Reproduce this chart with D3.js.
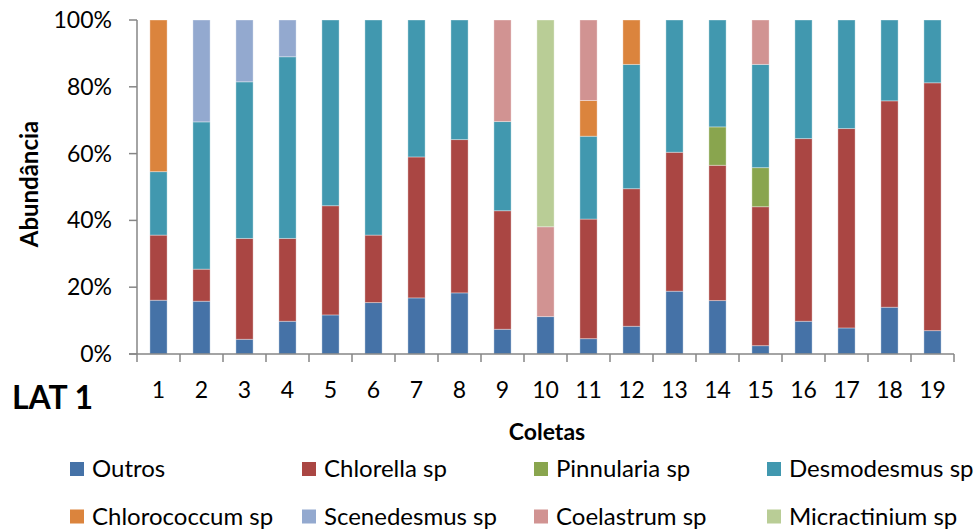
<!DOCTYPE html>
<html>
<head>
<meta charset="utf-8">
<script src="https://cdn.jsdelivr.net/npm/d3@7"></script>
<style>
html,body{margin:0;padding:0;background:#fff;}
svg{display:block;font-family:Lato,"Open Sans",sans-serif;}
</style>
</head>
<body>
<svg id="chart" width="980" height="529"></svg>
<script>
const categories = ["1","2","3","4","5","6","7","8","9","10","11","12","13","14","15","16","17","18","19"];
const seriesNames = ["Outros","Chlorella sp","Pinnularia sp","Desmodesmus sp","Chlorococcum sp","Scenedesmus sp","Coelastrum sp","Micractinium sp"];
const seriesColors = ["#4572A7","#AA4643","#89A54E","#4198AF","#DB843D","#93A9CF","#D19392","#B9CD96"];
const outros       = [16.1,15.8,4.4,9.8,11.7,15.4,16.8,18.3,7.4,11.2,4.6,8.3,18.8,16.0,2.5,9.8,7.8,14.0,7.0];
const chlorella    = [19.5,9.6,30.2,24.8,32.7,20.2,42.2,45.9,35.5,0,35.8,41.2,41.6,40.5,41.6,54.7,59.7,61.8,74.2];
const pinnularia   = [0,0,0,0,0,0,0,0,0,0,0,0,0,11.5,11.7,0,0,0,0];
const desmodesmus  = [19.0,44.1,46.9,54.4,55.6,64.4,41.0,35.8,26.7,0,24.8,37.2,39.6,32.0,30.9,35.5,32.5,24.2,18.8];
const chlorococcum = [45.4,0,0,0,0,0,0,0,0,0,10.7,13.3,0,0,0,0,0,0,0];
const scenedesmus  = [0,30.5,18.5,11.0,0,0,0,0,0,0,0,0,0,0,0,0,0,0,0];
const coelastrum   = [0,0,0,0,0,0,0,0,30.4,26.9,24.1,0,0,0,13.3,0,0,0,0];
const micractinium = [0,0,0,0,0,0,0,0,0,61.9,0,0,0,0,0,0,0,0,0];
const yTickLabels = ["0%","20%","40%","60%","80%","100%"];

const seriesValues = [outros,chlorella,pinnularia,desmodesmus,chlorococcum,scenedesmus,coelastrum,micractinium];
const table = categories.map((c,i)=>{
  const row = {cat:c};
  seriesNames.forEach((s,j)=>row[s]=seriesValues[j][i]);
  return row;
});

const svg = d3.select("#chart");
const X0=137, X1=954, Y0=20, Y1=354;
const axisColor="#868686";

const x = d3.scaleBand().domain(categories).range([X0,X1]).paddingInner(0.6).paddingOuter(0.3);
const y = d3.scaleLinear().domain([0,1]).range([Y1,Y0]);

const stacked = d3.stack().keys(seriesNames).offset(d3.stackOffsetExpand)(table);

const g = svg.append("g");
stacked.forEach((layer,j)=>{
  g.selectAll(null).data(layer.filter(d=>d[1]-d[0]>0)).enter().append("rect")
    .attr("x",d=>x(d.data.cat))
    .attr("width",x.bandwidth())
    .attr("y",d=>y(d[1]))
    .attr("height",d=>y(d[0])-y(d[1]))
    .attr("fill",seriesColors[j])
    .attr("stroke","rgba(255,255,255,0.35)")
    .attr("stroke-width",1);
});

// Axes lines
svg.append("line").attr("x1",X0).attr("x2",X0).attr("y1",Y0).attr("y2",Y1).attr("stroke",axisColor).attr("stroke-width",1.5);
svg.append("line").attr("x1",X0-8).attr("x2",X1).attr("y1",Y1).attr("y2",Y1).attr("stroke",axisColor).attr("stroke-width",1.5);

// Y ticks
const yTicks = d3.range(0,1.0001,0.2);
svg.selectAll(null).data(yTicks).enter().append("line")
  .attr("x1",X0-8).attr("x2",X0).attr("y1",d=>y(d)).attr("y2",d=>y(d))
  .attr("stroke",axisColor).attr("stroke-width",1.5);
svg.selectAll(null).data(yTicks).enter().append("text")
  .attr("x",112).attr("y",d=>y(d)+8)
  .attr("text-anchor","end").attr("font-size",23).attr("fill","#000")
  .text((d,i)=>yTickLabels[i]);

// X ticks (boundaries)
const step = x.step();
const bounds = d3.range(categories.length+1).map(k=>X0+k*step);
svg.selectAll(null).data(bounds).enter().append("line")
  .attr("x1",d=>d).attr("x2",d=>d).attr("y1",Y1).attr("y2",Y1+8)
  .attr("stroke",axisColor).attr("stroke-width",1.5);
svg.selectAll(null).data(categories).enter().append("text")
  .attr("x",d=>x(d)+x.bandwidth()/2).attr("y",398)
  .attr("text-anchor","middle").attr("font-size",23).attr("fill","#000")
  .text(d=>d);

// Titles
svg.append("text").attr("transform","translate(38,184) rotate(-90)")
  .attr("text-anchor","middle").attr("font-size",24).attr("font-weight","bold").text("Abundância");
svg.append("text").attr("x",547).attr("y",440)
  .attr("text-anchor","middle").attr("font-size",23).attr("font-weight","bold").text("Coletas");
svg.append("text").attr("x",12).attr("y",409)
  .attr("font-size",32).attr("font-weight","bold").text("LAT 1");

// Legend
const legX = [70,302,534,767];
const legY = [469,516.5];
const leg = svg.selectAll(null).data(seriesNames).enter().append("g")
  .attr("transform",(d,i)=>`translate(${legX[i%4]},${legY[Math.floor(i/4)]})`);
leg.append("rect").attr("x",0).attr("y",-7).attr("width",14).attr("height",14)
  .attr("fill",(d,i)=>seriesColors[i]);
leg.append("text").attr("x",22).attr("y",8).attr("font-size",24).text(d=>d);
</script>
</body>
</html>
